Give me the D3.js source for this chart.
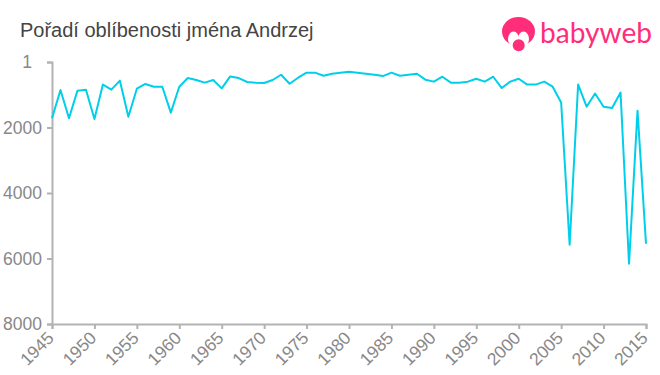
<!DOCTYPE html>
<html>
<head>
<meta charset="utf-8">
<script src="https://cdnjs.cloudflare.com/ajax/libs/d3/7.8.5/d3.min.js"></script>
<style>
	html, body { margin: 0; padding: 0; background: #fff; }
	text { font-family: "Liberation Sans", Arial, sans-serif; }
	.axis path, .axis line { stroke: #b3b3b3; stroke-width: 2; fill: none; }
	.axis text { fill: #888; font-size: 17.5px; }
	.line { fill: none; stroke: #00cfeb; stroke-width: 2; stroke-linejoin: round; }
</style>
</head>
<body>
<div id="chart-area"></div>
<script>
// Values
let title = "Pořadí oblíbenosti jména Andrzej";
let years = [
	1945, 1946, 1947, 1948, 1949, 1950, 1951, 1952, 1953, 1954,
	1955, 1956, 1957, 1958, 1959, 1960, 1961, 1962, 1963, 1964,
	1965, 1966, 1967, 1968, 1969, 1970, 1971, 1972, 1973, 1974,
	1975, 1976, 1977, 1978, 1979, 1980, 1981, 1982, 1983, 1984,
	1985, 1986, 1987, 1988, 1989, 1990, 1991, 1992, 1993, 1994,
	1995, 1996, 1997, 1998, 1999, 2000, 2001, 2002, 2003, 2004,
	2005, 2006, 2007, 2008, 2009, 2010, 2011, 2012, 2013, 2014, 2015
];
let ranks = [
	1720, 855, 1720, 875, 845, 1740, 690, 845, 570, 1670,
	815, 670, 755, 755, 1545, 755, 490, 550, 630, 550,
	805, 440, 490, 610, 630, 640, 550, 390, 665, 480,
	325, 325, 420, 360, 330, 295, 330, 360, 390, 430,
	325, 420, 390, 360, 540, 600, 450, 630, 630, 600,
	510, 600, 450, 795, 600, 510, 690, 690, 600, 755,
	1235, 5580, 685, 1365, 960, 1365, 1405, 930, 6160, 1485, 5550
];
let xTicks = [1945, 1950, 1955, 1960, 1965, 1970, 1975, 1980, 1985, 1990, 1995, 2000, 2005, 2010, 2015];
let yTicks = [1, 2000, 4000, 6000, 8000];

// Create SVG drawing space
let margin = {top: 62, right: 14, bottom: 51, left: 52};
let width = 660 - margin.left - margin.right;
let height = 375 - margin.top - margin.bottom;
let root = d3.select("#chart-area")
	.append("svg")
	.attr("width", 660)
	.attr("height", 375)
	.style("display", "block");
let svg = root.append("g")
	.attr("transform", "translate(" + margin.left + "," + margin.top + ")");

// Title
root.append("text")
	.attr("x", 20)
	.attr("y", 37)
	.attr("fill", "#444")
	.style("font-size", "20px")
	.text(title);

// Scales
let x = d3.scaleLinear()
	.domain([1945, 2015])
	.range([0, 594]);
let y = d3.scaleLinear()
	.domain([0, 8000])
	.range([0, height]);

// Axes
let xAxis = d3.axisBottom(x)
	.tickValues(xTicks)
	.tickFormat(d3.format("d"))
	.tickSizeOuter(0)
	.tickSize(5);
let yAxis = d3.axisLeft(y)
	.tickValues(yTicks)
	.tickFormat(d3.format("d"))
	.tickSizeOuter(0)
	.tickSize(5);

svg.append("g")
	.attr("class", "axis x-axis")
	.attr("transform", "translate(0," + height + ")")
	.call(xAxis)
	.selectAll("text")
	.attr("text-anchor", "end")
	.attr("x", 0)
	.attr("y", 0)
	.attr("dy", 0)
	.attr("transform", "translate(2.5,15) rotate(-45)");

// The "1" label sits further left than the others in the original
let yAxisGroup = svg.append("g")
	.attr("class", "axis y-axis")
	.call(yAxis);
yAxisGroup.selectAll("text").attr("x", d => d === 1 ? -20 : -10);

// Rank line
let line = d3.line()
	.x((d, i) => x(years[i]))
	.y(d => y(d));
svg.append("path")
	.datum(ranks)
	.attr("class", "line")
	.attr("d", line);

// Logo
let logo = root.append("g");
logo.append("ellipse").attr("cx", 518.5).attr("cy", 31.5).attr("rx", 16.5).attr("ry", 14.5).attr("fill", "#ff2d7a");
logo.append("ellipse").attr("cx", 513.5).attr("cy", 39).attr("rx", 5.5).attr("ry", 7.5).attr("fill", "#fff");
logo.append("ellipse").attr("cx", 523.5).attr("cy", 39).attr("rx", 5.5).attr("ry", 7.5).attr("fill", "#fff");
logo.append("rect").attr("x", 510).attr("y", 38).attr("width", 17).attr("height", 9).attr("fill", "#fff");
logo.append("circle").attr("cx", 518.7).attr("cy", 45.3).attr("r", 6).attr("fill", "#ff2d7a");
logo.append("text")
	.attr("x", 540)
	.attr("y", 43)
	.attr("fill", "#ff2d7a")
	.style("font-family", "Lato, sans-serif")
	.style("font-size", "29px")
	.attr("textLength", 112)
	.attr("lengthAdjust", "spacingAndGlyphs")
	.text("babyweb");
</script>
</body>
</html>
